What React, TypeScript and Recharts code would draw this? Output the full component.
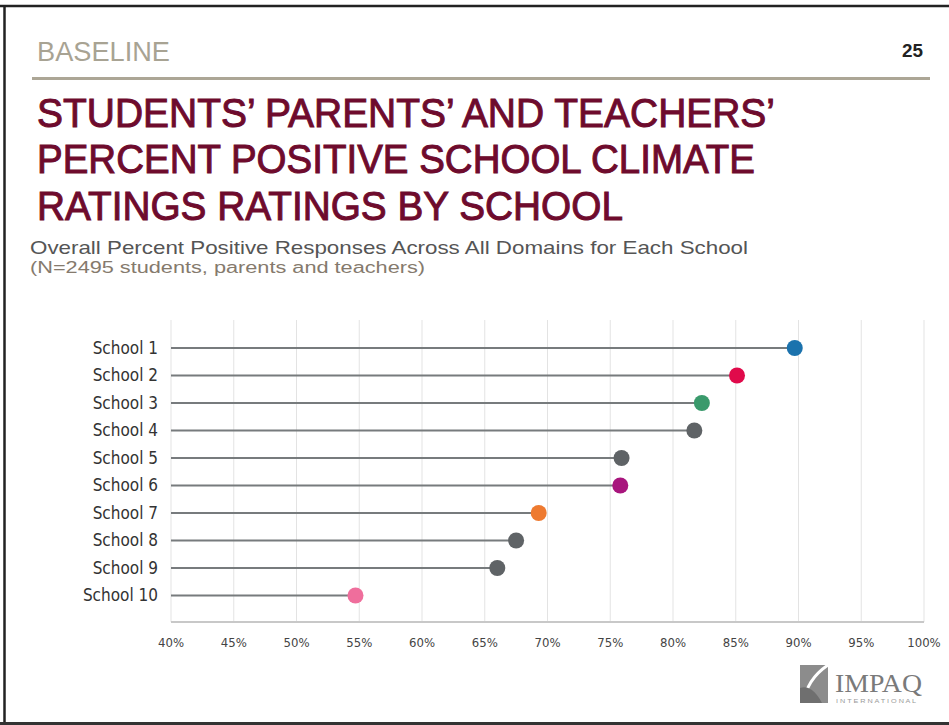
import React from 'react';
import { BarChart, Bar, XAxis, YAxis, CartesianGrid } from 'recharts';

const schools = ['School 1', 'School 2', 'School 3', 'School 4', 'School 5', 'School 6', 'School 7', 'School 8', 'School 9', 'School 10'];
const percentPositive = [89.7, 85.1, 82.3, 81.7, 75.9, 75.8, 69.3, 67.5, 66.0, 54.7];
const dotColors = ['#1b72ad', '#e00a4b', '#3a9a6c', '#5f6366', '#5f6366', '#a8157d', '#ee7a30', '#5f6366', '#5f6366', '#ef6e9c'];
const xTicks = [40, 45, 50, 55, 60, 65, 70, 75, 80, 85, 90, 95, 100];

const data = schools.map((name, i) => ({ name, value: percentPositive[i], color: dotColors[i] }));

const Lollipop = (props: any) => {
  const { x, y, width, height, payload } = props;
  const cy = y + height / 2;
  const ex = x + width;
  return (
    <g>
      <line x1={x} y1={cy} x2={ex} y2={cy} stroke="#777b7d" strokeWidth={2} />
      <circle cx={ex} cy={cy} r={8} fill={payload.color} />
    </g>
  );
};

const titleFont = "'Liberation Sans Narrow', 'Liberation Sans', Arial, sans-serif";
const subFont = "'Liberation Sans', Arial, sans-serif";
const labelFont = "'DejaVu Sans Condensed', 'DejaVu Sans', sans-serif";
const titleColor = '#6e0b2d';

export default function App() {
  return (
    <div style={{ position: 'absolute', top: 0, left: 0, width: 949, height: 725, background: '#fff', overflow: 'hidden' }}>
      <svg width={949} height={725} style={{ position: 'absolute', top: 0, left: 0 }}>
        <line x1={0} y1={6} x2={949} y2={6} stroke="#222" strokeWidth={2.5} />
        <line x1={4.5} y1={5} x2={4.5} y2={725} stroke="#222" strokeWidth={2.5} />
        <line x1={0} y1={723.5} x2={949} y2={723.5} stroke="#333" strokeWidth={3} />
        <text x={37} y={61} fontSize={27} fill="#a8a393" fontFamily="'Liberation Sans', Arial, sans-serif" textLength={133} lengthAdjust="spacingAndGlyphs">BASELINE</text>
        <text x={902} y={57} fontSize={19} fontWeight="bold" fill="#222" fontFamily="'Liberation Sans', Arial, sans-serif" textLength={21} lengthAdjust="spacingAndGlyphs">25</text>
        <rect x={32} y={77} width={898} height={3} fill="#aca696" />
        <text x={37} y={127} fontSize={41} fill={titleColor} stroke={titleColor} strokeWidth={1} fontFamily={titleFont} textLength={738} lengthAdjust="spacingAndGlyphs">STUDENTS’ PARENTS’ AND TEACHERS’</text>
        <text x={37} y={173} fontSize={41} fill={titleColor} stroke={titleColor} strokeWidth={1} fontFamily={titleFont} textLength={718} lengthAdjust="spacingAndGlyphs">PERCENT POSITIVE SCHOOL CLIMATE</text>
        <text x={37} y={220} fontSize={41} fill={titleColor} stroke={titleColor} strokeWidth={1} fontFamily={titleFont} textLength={586} lengthAdjust="spacingAndGlyphs">RATINGS RATINGS BY SCHOOL</text>
        <text x={30} y={254} fontSize={19} fill="#555" fontFamily={subFont} textLength={718} lengthAdjust="spacingAndGlyphs">Overall Percent Positive Responses Across All Domains for Each School</text>
        <text x={30} y={273} fontSize={16} fill="#857a6d" fontFamily={subFont} textLength={395} lengthAdjust="spacingAndGlyphs">(N=2495 students, parents and teachers)</text>
        <g>
          <rect x={800} y={665} width={28} height={38} fill="#8c8c8c" />
          <path d="M828,665 Q806,680 804,703" stroke="#fff" strokeWidth={3} fill="none" />
          <path d="M800,688 Q812,684 822,703 L800,703 Z" fill="#6f6f6f" />
          <text x={835} y={692} fontSize={25} fill="#7a7a7a" fontFamily="'Liberation Serif', 'DejaVu Serif', serif" textLength={87} lengthAdjust="spacingAndGlyphs">IMPAQ</text>
          <text x={836} y={703} fontSize={5} fill="#999" fontFamily="'Liberation Sans', sans-serif" textLength={80} lengthAdjust="spacingAndGlyphs">I N T E R N A T I O N A L</text>
        </g>
      </svg>
      <div style={{ position: 'absolute', top: 0, left: 0 }}>
        <BarChart
          width={949}
          height={725}
          data={data}
          layout="vertical"
          margin={{ top: 320, right: 25, bottom: 73, left: 0 }}
          barCategoryGap={0}
        >
          <CartesianGrid horizontal={false} vertical={true} stroke="#e3e3e3" />
          <XAxis
            type="number"
            domain={[40, 100]}
            ticks={xTicks}
            tickFormatter={(v: number) => `${v}%`}
            axisLine={{ stroke: '#c8c8c8', strokeWidth: 2 }}
            tickLine={false}
            tickSize={0}
            tickMargin={16}
            height={30}
            interval={0}
            tick={{ fontSize: 13, fill: '#444', fontFamily: labelFont }}
          />
          <YAxis
            type="category"
            dataKey="name"
            width={171}
            axisLine={false}
            tickLine={false}
            tickSize={0}
            tickMargin={13}
            padding={{ top: 14, bottom: 13 }}
            interval={0}
            tick={{ fontSize: 17, fill: '#333', fontFamily: labelFont }}
          />
          <Bar dataKey="value" shape={<Lollipop />} isAnimationActive={false} />
        </BarChart>
      </div>
    </div>
  );
}
